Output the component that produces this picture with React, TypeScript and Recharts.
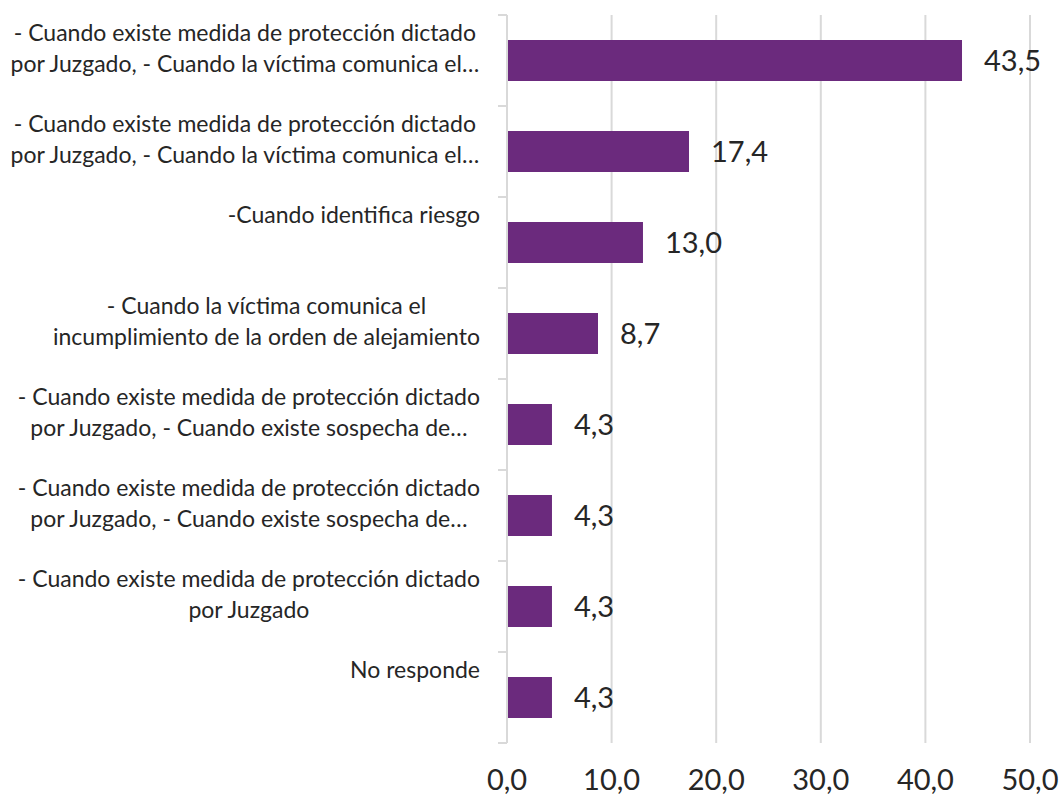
import React from "react";
import { BarChart, Bar, XAxis, YAxis, CartesianGrid, LabelList } from "recharts";

const categories = [
  "- Cuando existe medida de protección dictado\npor Juzgado, - Cuando la víctima comunica el…",
  "- Cuando existe medida de protección dictado\npor Juzgado, - Cuando la víctima comunica el…",
  "-Cuando identifica riesgo",
  "- Cuando la víctima comunica el\nincumplimiento de la orden de alejamiento",
  "- Cuando existe medida de protección dictado\npor Juzgado, - Cuando existe sospecha de…",
  "- Cuando existe medida de protección dictado\npor Juzgado, - Cuando existe sospecha de…",
  "- Cuando existe medida de protección dictado\npor Juzgado",
  "No responde",
];

const values = [43.5, 17.4, 13.0, 8.7, 4.3, 4.3, 4.3, 4.3];

const xTicks = [0, 10, 20, 30, 40, 50];

const data = categories.map((label, i) => ({ id: `c${i}`, label, value: values[i] }));

const WIDTH = 1060;
const HEIGHT = 802;
const MARGIN = { top: 15, right: 30, bottom: 0, left: 0 };
const X_AXIS_H = 59;
const Y_AXIS_W = 507;
const BAND = (HEIGHT - MARGIN.top - MARGIN.bottom - X_AXIS_H) / categories.length;

const FONT = "Lato, 'Open Sans', sans-serif";
const TEXT = "#262626";
const GRID = "#d9d9d9";
const BAR = "#6B2A7D";
const LABEL_SIZE = 23;

const fmt = (v: number) => v.toFixed(1).replace(".", ",");

let ctx: CanvasRenderingContext2D | null = null;
const measure = (s: string, size: number) => {
  if (!ctx) ctx = document.createElement("canvas").getContext("2d");
  if (!ctx) return s.length * size * 0.5;
  ctx.font = `${size}px Lato`;
  return ctx.measureText(s).width;
};

function CategoryTick(props: any) {
  const { x, y, payload, index } = props;
  const row = data.find((d) => d.id === payload.value);
  const lines = row ? row.label.split("\n") : [];
  const maxW = Math.max(...lines.map((l) => measure(l, LABEL_SIZE)));
  const cx = x - 27 - maxW / 2;
  const top = y - BAND / 2;
  return (
    <g>
      <line x1={x - 9} x2={x} y1={top} y2={top} stroke={GRID} strokeWidth={2} />
      {index === data.length - 1 && (
        <line x1={x - 9} x2={x} y1={top + BAND} y2={top + BAND} stroke={GRID} strokeWidth={2} />
      )}
      <text textAnchor="middle" fontFamily={FONT} fontSize={LABEL_SIZE} fill={TEXT}>
        {lines.map((l, i) => (
          <tspan key={i} x={cx} y={y - 20 + i * 31}>
            {l}
          </tspan>
        ))}
      </text>
    </g>
  );
}

export default function App() {
  return (
    <div style={{ position: "absolute", left: 0, top: 0, width: WIDTH, height: HEIGHT, background: "#fff" }}>
      <BarChart width={WIDTH} height={HEIGHT} data={data} layout="vertical" margin={MARGIN}>
        <CartesianGrid horizontal={false} stroke={GRID} strokeWidth={2} />
        <XAxis
          type="number"
          domain={[0, 50]}
          ticks={xTicks}
          height={X_AXIS_H}
          axisLine={false}
          tickLine={false}
          tickFormatter={fmt}
          tick={{ fill: TEXT, fontSize: 29, fontFamily: FONT, dy: 18 }}
        />
        <YAxis
          type="category"
          dataKey="id"
          width={Y_AXIS_W}
          axisLine={{ stroke: GRID, strokeWidth: 2 }}
          tickLine={false}
          tickSize={0}
          tickMargin={0}
          interval={0}
          tick={<CategoryTick />}
        />
        <Bar dataKey="value" fill={BAR} barSize={41} isAnimationActive={false}>
          <LabelList
            dataKey="value"
            position="right"
            offset={22}
            formatter={(v: any) => fmt(Number(v))}
            style={{ fill: TEXT, fontSize: 29, fontFamily: FONT }}
          />
        </Bar>
      </BarChart>
    </div>
  );
}
